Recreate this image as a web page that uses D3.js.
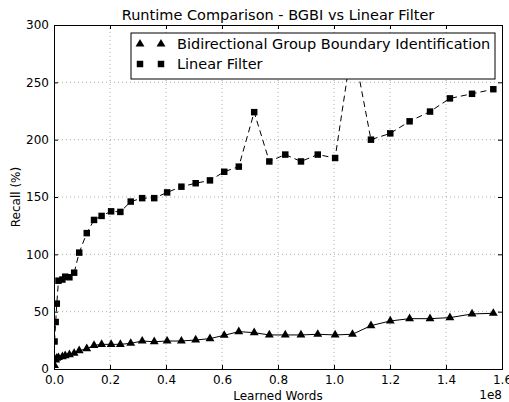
<!DOCTYPE html>
<html>
<head>
<meta charset="utf-8">
<script src="https://cdn.jsdelivr.net/npm/d3@7"></script>
<style>
  body { margin: 0; background: #fff; }
  svg text { font-family: "DejaVu Sans", sans-serif; fill: #000; }
</style>
</head>
<body>
<svg id="chart" width="509" height="402"></svg>
<script>
// Learned words (units of 1e8), shared by both series
const learnedWords = [0.002, 0.006, 0.01, 0.016, 0.03, 0.04, 0.055, 0.072, 0.09, 0.117,
    0.143, 0.17, 0.204, 0.237, 0.274, 0.315, 0.358, 0.404, 0.455, 0.506,
    0.557, 0.608, 0.66, 0.715, 0.769, 0.826, 0.882, 0.942, 1.004, 1.066,
    1.132, 1.201, 1.27, 1.343, 1.414, 1.493, 1.569];

const bgbiValues = [3, 8, 9.5, 10, 10.8, 11.6, 12.5, 13.7, 16, 17.7,
    20.6, 21.5, 21.5, 21.5, 22.4, 24.4, 23.8, 24.4, 24.4, 25.3,
    26.5, 29.4, 32.6, 31.7, 29.7, 29.7, 29.7, 30.3, 29.7, 30.3,
    37.8, 41.9, 43.9, 43.9, 44.8, 48, 48.6];

const linearValues = [24, 41, 57, 77, 78, 80.5, 80, 84, 101.5, 118.5,
    130, 133.5, 137.5, 137, 146, 149, 149, 154, 159, 162,
    164.5, 172, 176.5, 224, 181, 187, 181, 187, 184, 285,
    200, 205.5, 216, 224.5, 236, 240, 244];

const xTicks = [0, 0.2, 0.4, 0.6, 0.8, 1.0, 1.2, 1.4, 1.6];
const yTicks = [0, 50, 100, 150, 200, 250, 300];

const seriesNames = ["Bidirectional Group Boundary Identification", "Linear Filter"];

const svg = d3.select("#chart");
const margin = { left: 54, right: 7, top: 25, bottom: 33 };
const width = 509, height = 402;

const x = d3.scaleLinear().domain([0, 1.6]).range([margin.left, width - margin.right]);
const y = d3.scaleLinear().domain([0, 300]).range([height - margin.bottom, margin.top]);

const bgbi = learnedWords.map((w, i) => ({ x: w, y: bgbiValues[i] }));
const linear = learnedWords.map((w, i) => ({ x: w, y: linearValues[i] }));

// clip so the spike stays inside the axes
svg.append("clipPath").attr("id", "clip")
    .append("rect")
    .attr("x", x(0)).attr("y", y(300))
    .attr("width", x(1.6) - x(0)).attr("height", y(0) - y(300));

// grid
const grid = svg.append("g")
    .attr("stroke", "#999")
    .attr("stroke-width", 0.8)
    .attr("stroke-dasharray", "1,3");
grid.selectAll(".gx").data(xTicks.slice(1, -1)).join("line")
    .attr("x1", d => x(d)).attr("x2", d => x(d))
    .attr("y1", y(0)).attr("y2", y(300));
grid.selectAll(".gy").data(yTicks.slice(1, -1)).join("line")
    .attr("y1", d => y(d)).attr("y2", d => y(d))
    .attr("x1", x(0)).attr("x2", x(1.6));

// axes with inward ticks on all four sides
const fmtX = d3.format(".1f");
svg.append("g").attr("transform", `translate(0,${y(0)})`)
    .call(d3.axisBottom(x).tickValues(xTicks).tickSize(-4).tickPadding(6).tickFormat(fmtX));
svg.append("g").attr("transform", `translate(0,${y(300)})`)
    .call(d3.axisTop(x).tickValues(xTicks).tickSize(-4).tickFormat(""));
svg.append("g").attr("transform", `translate(${x(0)},0)`)
    .call(d3.axisLeft(y).tickValues(yTicks).tickSize(-4).tickPadding(5));
svg.append("g").attr("transform", `translate(${x(1.6)},0)`)
    .call(d3.axisRight(y).tickValues(yTicks).tickSize(-4).tickFormat(""));
svg.selectAll(".domain").attr("stroke", "#000").attr("stroke-width", 1);
svg.selectAll(".tick line").attr("stroke", "#000");
svg.selectAll(".tick text").style("font-family", "DejaVu Sans").style("font-size", "12px").attr("fill", "#000");

// lines
const line = d3.line().x(d => x(d.x)).y(d => y(d.y));
const plot = svg.append("g").attr("clip-path", "url(#clip)");

plot.append("path").datum(bgbi)
    .attr("fill", "none").attr("stroke", "#000").attr("stroke-width", 1)
    .attr("d", line);
plot.append("path").datum(linear)
    .attr("fill", "none").attr("stroke", "#000").attr("stroke-width", 1)
    .attr("stroke-dasharray", "6,4")
    .attr("d", line);

const tri = d3.symbol().type(d3.symbolTriangle).size(34);
const sq = d3.symbol().type(d3.symbolSquare).size(42);

plot.selectAll(".tri").data(bgbi).join("path")
    .attr("d", tri)
    .attr("transform", d => `translate(${x(d.x)},${y(d.y)})`)
    .attr("fill", "#000");
plot.selectAll(".sq").data(linear).join("path")
    .attr("d", sq)
    .attr("transform", d => `translate(${x(d.x)},${y(d.y)})`)
    .attr("fill", "#000");

// legend
const legend = svg.append("g");
legend.append("rect")
    .attr("x", 131).attr("y", 33).attr("width", 364).attr("height", 46)
    .attr("fill", "#fff").attr("stroke", "#000").attr("stroke-width", 1);
const entries = [{ name: seriesNames[0], sym: tri }, { name: seriesNames[1], sym: sq }];
entries.forEach((e, i) => {
    const cy = 44 + i * 20;
    [140, 161].forEach(cx => {
        legend.append("path").attr("d", e.sym)
            .attr("transform", `translate(${cx},${cy})`).attr("fill", "#000");
    });
    legend.append("text")
        .attr("x", 177).attr("y", cy).attr("dy", "0.36em")
        .style("font-size", "14.5px")
        .text(e.name);
});

// title and labels
svg.append("text")
    .attr("x", (x(0) + x(1.6)) / 2).attr("y", 20)
    .attr("text-anchor", "middle")
    .style("font-size", "14.5px")
    .text("Runtime Comparison - BGBI vs Linear Filter");

svg.append("text")
    .attr("x", (x(0) + x(1.6)) / 2).attr("y", 400)
    .attr("text-anchor", "middle")
    .style("font-size", "12px")
    .text("Learned Words");

svg.append("text")
    .attr("transform", `translate(20,${(y(0) + y(300)) / 2}) rotate(-90)`)
    .attr("text-anchor", "middle")
    .style("font-size", "12px")
    .text("Recall (%)");

svg.append("text")
    .attr("x", x(1.6)).attr("y", 399)
    .attr("text-anchor", "end")
    .style("font-size", "12px")
    .text("1e8");
</script>
</body>
</html>
